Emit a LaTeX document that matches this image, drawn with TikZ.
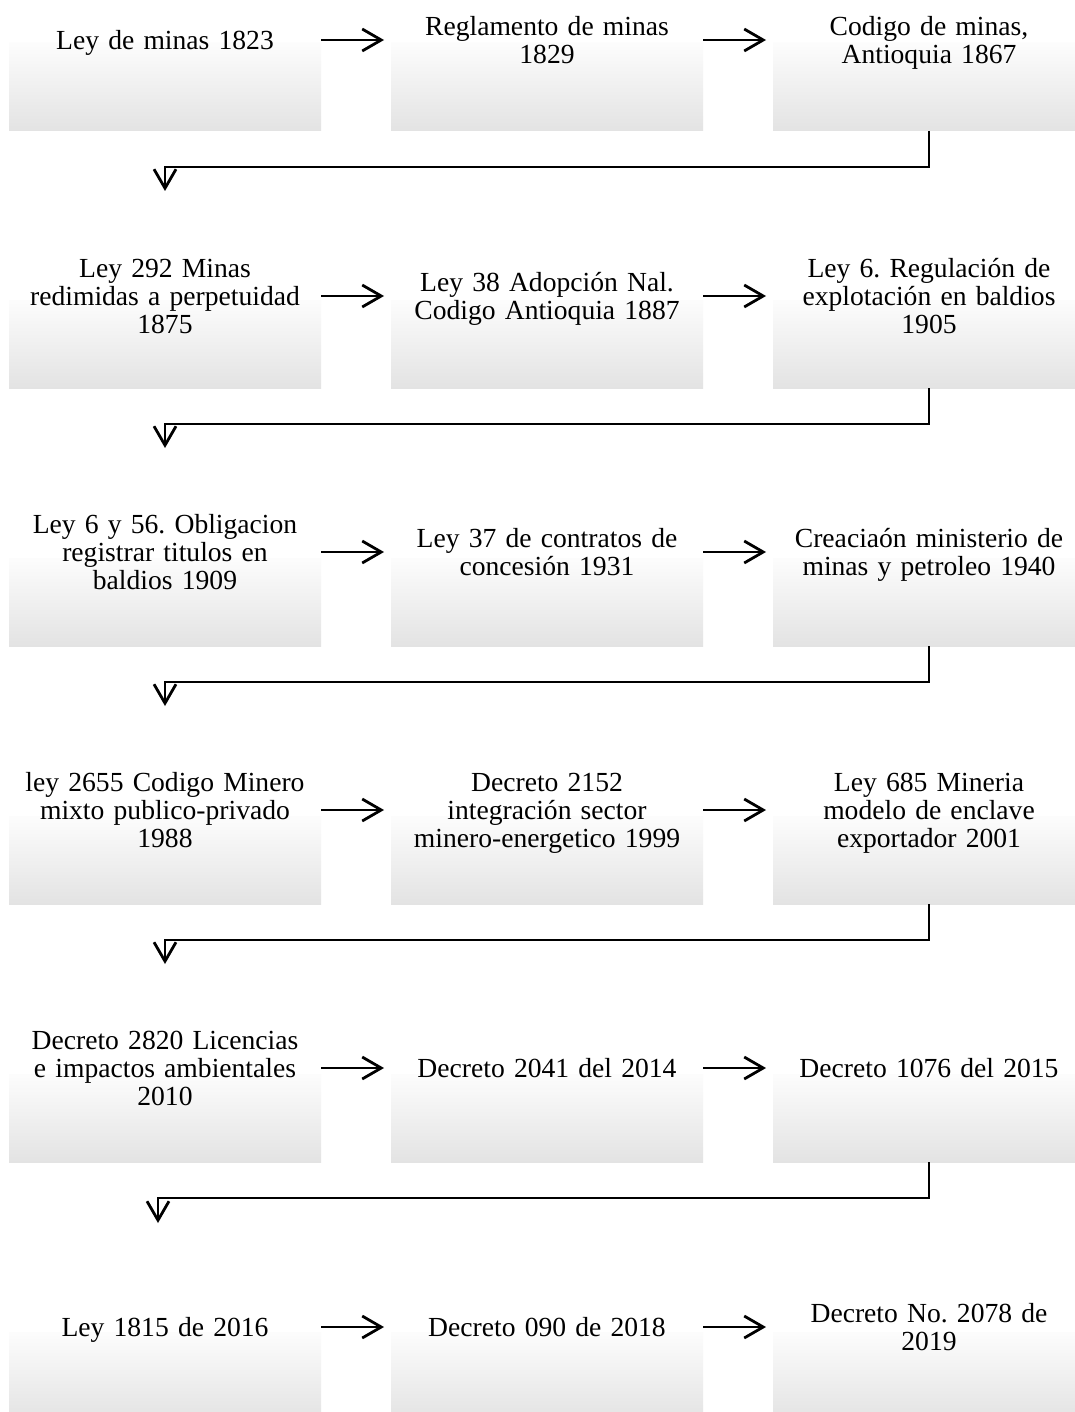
\documentclass[tikz,border=0pt]{standalone}
\usepackage{fontspec}
\setmainfont{Liberation Serif}
\usepackage{tikz}
\usetikzlibrary{arrows.meta,calc,positioning}
\frenchspacing
\tikzstyle{panel}=[
  rectangle,
  inner sep=0pt,
  outer sep=0pt,
  minimum width=156pt,
  minimum height=44pt,
  top color=black!1,
  bottom color=black!11,
]
\tikzstyle{caption}=[
  font={\fontsize{13.8}{14}\selectfont},
  inner sep=0pt,
  outer sep=0pt,
  text width=156pt,
  align=center,
  execute at begin node={\rule{0pt}{13.8pt}},
  execute at end node=\strut,
]
\tikzstyle{flow}=[
  color=black,
  line width=1.4pt,
  -{Straight Barb[length=9.5pt,width=11pt,line width=1.4pt]},
]
\tikzset{
  shorten >=1pt,
}
\begin{document}
\begin{tikzpicture}[x=0.5pt,y=-0.5pt]
    \useasboundingbox [fill=white] (0,0) rectangle (1075,1412);
    %% row 1
    \node (b11) [panel] at (165,87) {};
    \node (b12) [panel] at (547,87) {};
    \node (b13) [panel] at (929,87) {};
    \node (t11) [caption] at (165,40) {Ley de minas 1823};
    \node (t12) [caption] at (547,40) {Reglamento de minas\\1829};
    \node (t13) [caption] at (929,40) {Codigo de minas,\\Antioquia 1867};
    %% row 2
    \node (b21) [panel] at (165,344) {};
    \node (b22) [panel] at (547,344) {};
    \node (b23) [panel] at (929,344) {};
    \node (t21) [caption] at (165,296) {Ley 292 Minas\\redimidas a perpetuidad\\1875};
    \node (t22) [caption] at (547,296) {Ley 38 Adopción Nal.\\Codigo Antioquia 1887};
    \node (t23) [caption] at (929,296) {Ley  6. Regulación de\\explotación en baldios\\1905};
    %% row 3
    \node (b31) [panel] at (165,602) {};
    \node (b32) [panel] at (547,602) {};
    \node (b33) [panel] at (929,602) {};
    \node (t31) [caption] at (165,552) {Ley 6 y 56. Obligacion\\registrar titulos en\\baldios 1909};
    \node (t32) [caption] at (547,552) {Ley  37 de contratos de\\concesión 1931};
    \node (t33) [caption] at (929,552) {Creaciaón ministerio de\\minas y petroleo 1940};
    %% row 4
    \node (b41) [panel] at (165,860) {};
    \node (b42) [panel] at (547,860) {};
    \node (b43) [panel] at (929,860) {};
    \node (t41) [caption] at (165,810) {ley 2655 Codigo Minero\\mixto  publico-privado\\1988};
    \node (t42) [caption] at (547,810) {Decreto 2152\\integración sector\\minero-energetico 1999};
    \node (t43) [caption] at (929,810) {Ley 685 Mineria\\modelo de enclave\\exportador 2001};
    %% row 5
    \node (b51) [panel] at (165,1118) {};
    \node (b52) [panel] at (547,1118) {};
    \node (b53) [panel] at (929,1118) {};
    \node (t51) [caption] at (165,1068) {Decreto 2820 Licencias\\e impactos ambientales\\2010};
    \node (t52) [caption] at (547,1068) {Decreto 2041 del 2014};
    \node (t53) [caption] at (929,1068) {Decreto 1076 del 2015};
    %% row 6
    \node (b61) [panel] at (165,1376) {};
    \node (b62) [panel] at (547,1376) {};
    \node (b63) [panel] at (929,1376) {};
    \node (t61) [caption] at (165,1327) {Ley 1815 de 2016};
    \node (t62) [caption] at (547,1327) {Decreto 090 de 2018};
    \node (t63) [caption] at (929,1327) {Decreto No. 2078 de\\2019};
    %% entry points of the row connectors
    \coordinate (in2) at (165,193);
    \coordinate (in3) at (165,450);
    \coordinate (in4) at (165,708);
    \coordinate (in5) at (165,966);
    \coordinate (in6) at (158,1225);
    %% arrows within rows
    \draw [flow, shorten >=3.5pt] (t11.east) -- (t12.west);
    \draw [flow, shorten >=3.5pt] (t12.east) -- (t13.west);
    \draw [flow, shorten >=3.5pt] (t21.east) -- (t22.west);
    \draw [flow, shorten >=3.5pt] (t22.east) -- (t23.west);
    \draw [flow, shorten >=3.5pt] (t31.east) -- (t32.west);
    \draw [flow, shorten >=3.5pt] (t32.east) -- (t33.west);
    \draw [flow, shorten >=3.5pt] (t41.east) -- (t42.west);
    \draw [flow, shorten >=3.5pt] (t42.east) -- (t43.west);
    \draw [flow, shorten >=3.5pt] (t51.east) -- (t52.west);
    \draw [flow, shorten >=3.5pt] (t52.east) -- (t53.west);
    \draw [flow, shorten >=3.5pt] (t61.east) -- (t62.west);
    \draw [flow, shorten >=3.5pt] (t62.east) -- (t63.west);
    %% arrows between rows
    \draw [flow] (b13.south) -- ++(0,36) -| (in2);
    \draw [flow] (b23.south) -- ++(0,36) -| (in3);
    \draw [flow] (b33.south) -- ++(0,36) -| (in4);
    \draw [flow] (b43.south) -- ++(0,36) -| (in5);
    \draw [flow] (b53.south) -- ++(0,36) -| (in6);
\end{tikzpicture}
\end{document}
